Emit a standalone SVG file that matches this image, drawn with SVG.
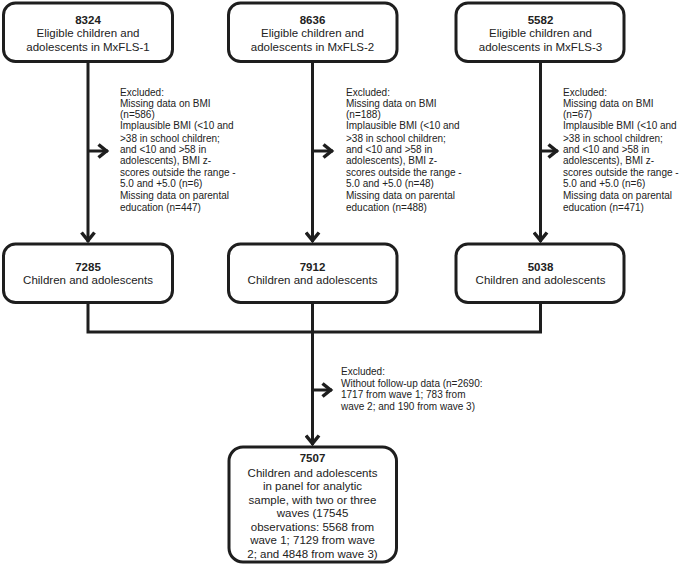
<svg xmlns="http://www.w3.org/2000/svg" width="685" height="566" viewBox="0 0 685 566">
<style>
.box{fill:#fff;stroke:#1e1e1e;stroke-width:3}
.ln{fill:none;stroke:#1e1e1e;stroke-width:3}
text{font-family:"Liberation Sans",Arial,sans-serif;fill:#222}
.t{font-size:11.5px;text-anchor:middle}
.b{font-weight:bold}
.ex{font-size:10px}
</style>
<defs>
<marker id="chev" markerUnits="userSpaceOnUse" markerWidth="16" markerHeight="16" viewBox="-14 -8 16 16" refX="0" refY="0" orient="auto">
<path d="M-9.5,-6.5 L-1.5,0 L-9.5,6.5" fill="none" stroke="#1e1e1e" stroke-width="3.5"/>
</marker>
</defs>
<rect width="685" height="566" fill="#fff"/>
<g id="connectors">
<path class="ln" d="M88,62 V242" marker-end="url(#chev)"/>
<path class="ln" d="M88,151 H108" marker-end="url(#chev)"/>
<path class="ln" d="M312.5,62 V242" marker-end="url(#chev)"/>
<path class="ln" d="M312.5,151 H333" marker-end="url(#chev)"/>
<path class="ln" d="M540.5,62 V242" marker-end="url(#chev)"/>
<path class="ln" d="M540.5,151 H558" marker-end="url(#chev)"/>
<path class="ln" d="M88,303 V332 H540.5 V303"/>
<path class="ln" d="M312.5,303 V445" marker-end="url(#chev)"/>
<path class="ln" d="M312.5,390 H332" marker-end="url(#chev)"/>
</g>
<g id="n1">
<rect class="box" x="3.5" y="3" width="169" height="58.5" rx="12"/>
<text class="t b" x="88" y="23.5">8324</text>
<text class="t" x="88" y="37">Eligible children and</text>
<text class="t" x="88" y="50.5">adolescents in MxFLS-1</text>
</g>
<g id="n2">
<rect class="box" x="228.5" y="3" width="168.5" height="58.5" rx="12"/>
<text class="t b" x="312.5" y="23.5">8636</text>
<text class="t" x="312.5" y="37">Eligible children and</text>
<text class="t" x="312.5" y="50.5">adolescents in MxFLS-2</text>
</g>
<g id="n3">
<rect class="box" x="456" y="3" width="168" height="58.5" rx="12"/>
<text class="t b" x="540.5" y="23.5">5582</text>
<text class="t" x="540.5" y="37">Eligible children and</text>
<text class="t" x="540.5" y="50.5">adolescents in MxFLS-3</text>
</g>
<g id="ex1" class="ex">
<text class="ex" x="120" y="96">Excluded:</text>
<text class="ex" x="120" y="107">Missing data on BMI</text>
<text class="ex" x="120" y="118">(n=586)</text>
<text class="ex" x="120" y="129">Implausible BMI (&lt;10 and</text>
<text class="ex" x="120" y="142">&gt;38 in school children;</text>
<text class="ex" x="120" y="153">and &lt;10 and &gt;58 in</text>
<text class="ex" x="120" y="164">adolescents), BMI z-</text>
<text class="ex" x="120" y="175.5">scores outside the range -</text>
<text class="ex" x="120" y="186.5">5.0 and +5.0 (n=6)</text>
<text class="ex" x="120" y="199">Missing data on parental</text>
<text class="ex" x="120" y="210.5">education (n=447)</text>
</g>
<g id="ex2">
<text class="ex" x="346" y="96">Excluded:</text>
<text class="ex" x="346" y="107">Missing data on BMI</text>
<text class="ex" x="346" y="118">(n=188)</text>
<text class="ex" x="346" y="129">Implausible BMI (&lt;10 and</text>
<text class="ex" x="346" y="142">&gt;38 in school children;</text>
<text class="ex" x="346" y="153">and &lt;10 and &gt;58 in</text>
<text class="ex" x="346" y="164">adolescents), BMI z-</text>
<text class="ex" x="346" y="175.5">scores outside the range -</text>
<text class="ex" x="346" y="186.5">5.0 and +5.0 (n=48)</text>
<text class="ex" x="346" y="199">Missing data on parental</text>
<text class="ex" x="346" y="210.5">education (n=488)</text>
</g>
<g id="ex3">
<text class="ex" x="563" y="96">Excluded:</text>
<text class="ex" x="563" y="107">Missing data on BMI</text>
<text class="ex" x="563" y="118">(n=67)</text>
<text class="ex" x="563" y="129">Implausible BMI (&lt;10 and</text>
<text class="ex" x="563" y="142">&gt;38 in school children;</text>
<text class="ex" x="563" y="153">and &lt;10 and &gt;58 in</text>
<text class="ex" x="563" y="164">adolescents), BMI z-</text>
<text class="ex" x="563" y="175.5">scores outside the range -</text>
<text class="ex" x="563" y="186.5">5.0 and +5.0 (n=6)</text>
<text class="ex" x="563" y="199">Missing data on parental</text>
<text class="ex" x="563" y="210.5">education (n=471)</text>
</g>
<g id="m1">
<rect class="box" x="3.5" y="244" width="169" height="58.5" rx="12"/>
<text class="t b" x="88" y="270.5">7285</text>
<text class="t" x="88" y="284">Children and adolescents</text>
</g>
<g id="m2">
<rect class="box" x="228.5" y="244" width="168.5" height="58.5" rx="12"/>
<text class="t b" x="312.5" y="270.5">7912</text>
<text class="t" x="312.5" y="284">Children and adolescents</text>
</g>
<g id="m3">
<rect class="box" x="456" y="244" width="168" height="58.5" rx="12"/>
<text class="t b" x="540.5" y="270.5">5038</text>
<text class="t" x="540.5" y="284">Children and adolescents</text>
</g>
<g id="ex4">
<text class="ex" x="341" y="375">Excluded:</text>
<text class="ex" x="341" y="386.5">Without follow-up data (n=2690:</text>
<text class="ex" x="341" y="398">1717 from wave 1; 783 from</text>
<text class="ex" x="341" y="409.5">wave 2; and 190 from wave 3)</text>
</g>
<g id="final">
<rect class="box" x="229" y="447" width="167.5" height="115" rx="14"/>
<text class="t b" x="312.5" y="462">7507</text>
<text class="t" x="312.5" y="476.5">Children and adolescents</text>
<text class="t" x="312.5" y="490">in panel for analytic</text>
<text class="t" x="312.5" y="503.5">sample, with two or three</text>
<text class="t" x="312.5" y="517">waves (17545</text>
<text class="t" x="312.5" y="530.5">observations: 5568 from</text>
<text class="t" x="312.5" y="544">wave 1; 7129 from wave</text>
<text class="t" x="312.5" y="557.5">2; and 4848 from wave 3)</text>
</g>
</svg>
